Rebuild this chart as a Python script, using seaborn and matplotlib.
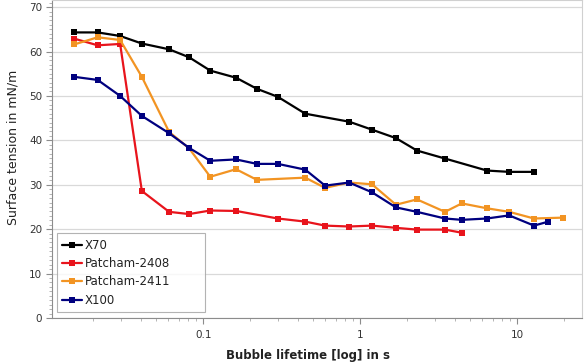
import matplotlib
matplotlib.use("Agg")
import matplotlib.pyplot as plt
import matplotlib.ticker as mticker
import pandas as pd
import seaborn as sns

# values
x70_t = [0.0151, 0.0213, 0.0296, 0.0407, 0.0607, 0.0814, 0.111, 0.162, 0.220, 0.299,
         0.447, 0.851, 1.19, 1.69, 2.30, 3.47, 6.41, 8.89, 12.8]
x70_s = [64.3, 64.3, 63.5, 61.8, 60.5, 58.7, 55.7, 54.1, 51.6, 49.8,
         46.0, 44.2, 42.4, 40.5, 37.7, 35.9, 33.2, 32.9, 32.9]

p2408_t = [0.0151, 0.0213, 0.0296, 0.0407, 0.0607, 0.0814, 0.111, 0.162, 0.299,
           0.447, 0.598, 0.851, 1.19, 1.69, 2.30, 3.47, 4.44]
p2408_s = [62.9, 61.4, 61.7, 28.6, 23.9, 23.4, 24.2, 24.1, 22.4,
           21.7, 20.8, 20.6, 20.8, 20.3, 19.9, 19.9, 19.2]

p2411_t = [0.0151, 0.0213, 0.0296, 0.0407, 0.0607, 0.0814, 0.111, 0.162, 0.220,
           0.447, 0.598, 0.851, 1.19, 1.69, 2.30, 3.47, 4.44, 6.41, 8.89, 12.8, 19.7]
p2411_s = [61.6, 63.2, 62.6, 54.3, 41.9, 38.2, 31.8, 33.5, 31.1,
           31.6, 29.3, 30.5, 30.1, 25.5, 26.7, 23.9, 25.8, 24.7, 23.9, 22.4, 22.6]

x100_t = [0.0151, 0.0213, 0.0296, 0.0407, 0.0607, 0.0814, 0.111, 0.162, 0.220, 0.299,
          0.447, 0.598, 0.851, 1.19, 1.69, 2.30, 3.47, 4.44, 6.41, 8.89, 12.8, 15.8]
x100_s = [54.3, 53.6, 50.0, 45.5, 41.6, 38.3, 35.4, 35.7, 34.7, 34.7,
          33.4, 29.8, 30.5, 28.3, 24.9, 23.9, 22.4, 22.1, 22.4, 23.1, 20.8, 21.7]

names = ["X70", "Patcham-2408", "Patcham-2411", "X100"]
colors = ["#000000", "#e8141c", "#f29423", "#00007f"]

frames = []
for name, t, s in zip(names, [x70_t, p2408_t, p2411_t, x100_t],
                      [x70_s, p2408_s, p2411_s, x100_s]):
    frames.append(pd.DataFrame({"lifetime": t, "tension": s, "sample": name}))
df = pd.concat(frames, ignore_index=True)

sns.set_style("white")
plt.rcParams["font.family"] = ["DejaVu Sans"]

fig = plt.figure(figsize=(5.87, 3.64), dpi=100)
ax = fig.add_axes([0.0886, 0.1264, 0.903, 0.8736])

sns.lineplot(data=df, x="lifetime", y="tension", hue="sample", hue_order=names,
             palette=colors, marker="s", markersize=4.5, markeredgewidth=0,
             linewidth=1.6, estimator=None, sort=True, ax=ax)

ax.set_xscale("log")
ax.set_xlim(0.0109, 25.9)
ax.set_ylim(0, 71.6)
ax.xaxis.set_major_locator(mticker.FixedLocator([0.1, 1, 10]))
ax.xaxis.set_major_formatter(mticker.FixedFormatter(["0.1", "1", "10"]))
ax.xaxis.set_minor_locator(mticker.LogLocator(base=10, subs=range(2, 10)))
ax.xaxis.set_minor_formatter(mticker.NullFormatter())
ax.yaxis.set_major_locator(mticker.MultipleLocator(10))
ax.yaxis.set_minor_locator(mticker.MultipleLocator(1))

ax.grid(axis="y", which="major", color="#d9d9d9", linewidth=0.9)
ax.grid(axis="x", visible=False)
for side in ["left", "bottom"]:
    ax.spines[side].set_color("#8c8c8c")
for side in ["top", "right"]:
    ax.spines[side].set_color("#d0d0d0")

ax.tick_params(axis="both", which="both", left=True, bottom=True,
               top=False, right=False, direction="out")
ax.tick_params(axis="both", which="major", length=4, width=0.8,
               color="#8c8c8c", labelsize=7.5, labelcolor="#333333", pad=3)
ax.tick_params(axis="both", which="minor", length=2, width=0.6,
               color="#a8a8a8")
ax.tick_params(axis="x", which="major", pad=5)

ax.set_xlabel("Bubble lifetime [log] in s", fontsize=8.5, fontweight="bold",
              color="#222222")
ax.set_ylabel("Surface tension in mN/m", fontsize=9, color="#222222")
ax.xaxis.set_label_coords(0.483, -0.096)
ax.yaxis.set_label_coords(-0.061, 0.538)

leg = ax.legend(loc="lower left", bbox_to_anchor=(0.009, 0.019, 0.279, 0.233),
                mode="expand", borderaxespad=0,
                fontsize=8.5, frameon=True, fancybox=False, edgecolor="#a0a0a0",
                handlelength=1.7, handletextpad=0.2, labelspacing=0.45,
                borderpad=0.45, title=None)
leg.get_frame().set_linewidth(0.8)
for txt in leg.get_texts():
    txt.set_color("#222222")

fig.savefig("out.png", dpi=100)
